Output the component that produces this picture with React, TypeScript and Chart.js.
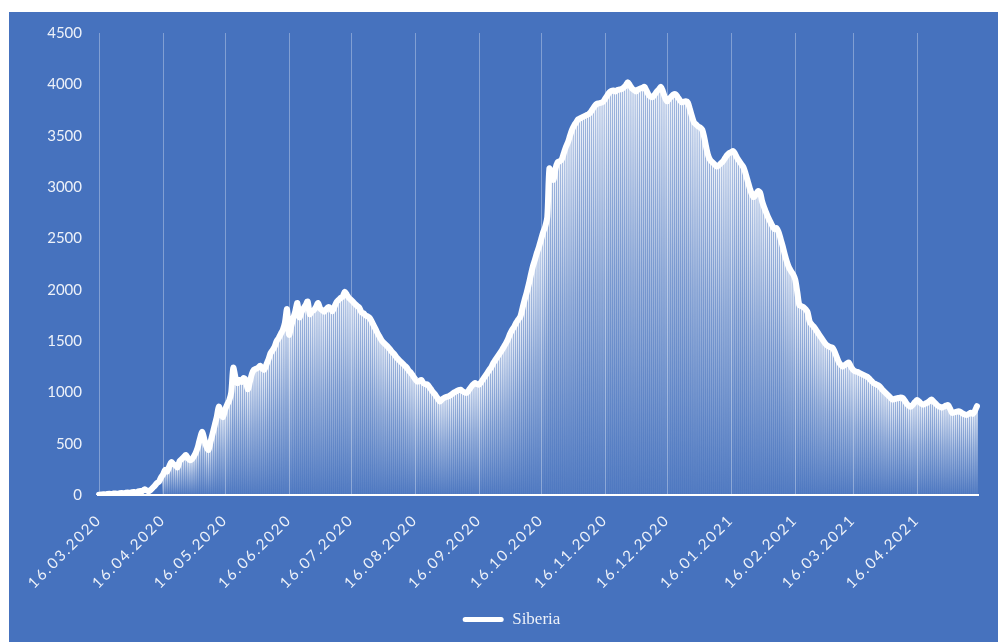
import React, { useEffect, useRef } from 'react';
import { Chart, registerables } from 'chart.js';

Chart.register(...registerables);

// ---------- data ----------
const SERIES_NAME = 'Siberia';
const START_YEAR = 2020;
const START_MONTH = 3; // March
const START_DAY = 16;
const BARS_FROM = '16.04.2020';
const TICK_DAY = '16';
const Y_MIN = 0;
const Y_MAX = 4500;
const Y_STEP = 500;

const mar2020 = [3, 5, 8, 6, 10, 12, 9, 14, 15, 12, 18, 20, 16, 22, 25, 20];
const apr2020 = [28, 30, 26, 35, 40, 38, 55, 45, 35, 50, 70, 90, 115, 130, 170, 200, 245, 230, 280, 320, 300, 290, 270, 330, 350, 370, 390, 360, 340, 350];
const may2020 = [380, 420, 480, 560, 615, 540, 470, 440, 520, 600, 680, 760, 860, 800, 760, 830, 880, 920, 1000, 1240, 1150, 1090, 1120, 1100, 1140, 1120, 1030, 1100, 1180, 1220, 1230];
const jun2020 = [1240, 1260, 1230, 1220, 1270, 1320, 1380, 1410, 1445, 1500, 1530, 1570, 1610, 1680, 1810, 1560, 1640, 1720, 1790, 1870, 1730, 1780, 1820, 1850, 1885, 1760, 1790, 1800, 1830, 1870];
const jul2020 = [1820, 1800, 1785, 1810, 1830, 1820, 1790, 1835, 1880, 1900, 1920, 1935, 1980, 1950, 1920, 1900, 1880, 1860, 1840, 1825, 1780, 1770, 1750, 1740, 1725, 1690, 1650, 1610, 1570, 1535, 1500];
const aug2020 = [1480, 1460, 1440, 1415, 1390, 1370, 1340, 1320, 1298, 1280, 1260, 1240, 1210, 1190, 1160, 1130, 1105, 1110, 1120, 1090, 1080, 1075, 1050, 1020, 995, 970, 940, 910, 930, 945, 955];
const sep2020 = [960, 970, 985, 1000, 1010, 1020, 1025, 1010, 1000, 995, 1020, 1050, 1075, 1090, 1080, 1075, 1100, 1130, 1160, 1190, 1220, 1250, 1290, 1320, 1350, 1380, 1410, 1445, 1480, 1520];
const oct2020 = [1570, 1610, 1640, 1680, 1710, 1740, 1820, 1900, 1970, 2050, 2140, 2225, 2290, 2360, 2420, 2490, 2560, 2615, 2710, 3180, 3120, 3070, 3180, 3240, 3250, 3270, 3330, 3390, 3435, 3500, 3560];
const nov2020 = [3600, 3630, 3660, 3670, 3680, 3690, 3700, 3710, 3730, 3760, 3790, 3810, 3815, 3820, 3830, 3860, 3890, 3920, 3935, 3940, 3930, 3945, 3950, 3955, 3970, 3990, 4020, 3990, 3960, 3945];
const dec2020 = [3930, 3950, 3960, 3965, 3975, 3940, 3900, 3880, 3875, 3900, 3930, 3950, 3975, 3930, 3870, 3835, 3860, 3880, 3900, 3905, 3880, 3850, 3825, 3830, 3835, 3825, 3760, 3690, 3630, 3610, 3590];
const jan2021 = [3580, 3560, 3480, 3380, 3300, 3260, 3240, 3220, 3200, 3210, 3230, 3250, 3280, 3310, 3330, 3340, 3350, 3320, 3280, 3250, 3220, 3190, 3130, 3060, 2990, 2930, 2900, 2930, 2960, 2945, 2860];
const feb2021 = [2800, 2750, 2700, 2660, 2620, 2590, 2600, 2560, 2490, 2420, 2340, 2270, 2215, 2180, 2150, 2100, 1980, 1850, 1840, 1830, 1810, 1780, 1690, 1660, 1640, 1610, 1580, 1550];
const mar2021 = [1520, 1490, 1465, 1450, 1440, 1435, 1400, 1350, 1300, 1270, 1250, 1265, 1280, 1290, 1250, 1220, 1205, 1200, 1190, 1180, 1170, 1160, 1150, 1130, 1110, 1090, 1080, 1070, 1055, 1030, 1010];
const apr2021 = [990, 970, 950, 930, 935, 940, 945, 950, 945, 920, 890, 870, 860, 880, 905, 925, 910, 890, 880, 890, 900, 915, 930, 910, 890, 870, 860, 850, 860, 870];
const may2021 = [875, 840, 800, 805, 810, 815, 810, 795, 785, 780, 790, 800, 790, 820, 865];

const siberia: number[] = [
  ...mar2020, ...apr2020, ...may2020, ...jun2020, ...jul2020, ...aug2020,
  ...sep2020, ...oct2020, ...nov2020, ...dec2020, ...jan2021, ...feb2021,
  ...mar2021, ...apr2021, ...may2021,
];

function buildLabels(n: number): string[] {
  const out: string[] = [];
  const d = new Date(Date.UTC(START_YEAR, START_MONTH - 1, START_DAY));
  for (let i = 0; i < n; i++) {
    const dd = String(d.getUTCDate()).padStart(2, '0');
    const mm = String(d.getUTCMonth() + 1).padStart(2, '0');
    out.push(`${dd}.${mm}.${d.getUTCFullYear()}`);
    d.setUTCDate(d.getUTCDate() + 1);
  }
  return out;
}

const labels = buildLabels(siberia.length);
const barStart = labels.indexOf(BARS_FROM);
const bars = siberia.map((v, i) => (i >= barStart ? v : null));

// ---------- styles ----------
const BG = 'rgb(70,114,190)';
const TEXT = 'rgba(255,255,255,0.9)';
const GRID = 'rgba(255,255,255,0.32)';

const letterSpacingPlugin = {
  id: 'xLetterSpacing',
  afterDatasetsDraw(chart: any) {
    (chart.ctx as any).letterSpacing = '2px';
  },
  afterDraw(chart: any) {
    (chart.ctx as any).letterSpacing = '0px';
  },
};

export default function App() {
  const ref = useRef<HTMLCanvasElement | null>(null);

  useEffect(() => {
    if (!ref.current) return;

    const barFill = (ctx: any) => {
      const chart = ctx.chart;
      const ys = chart.scales && chart.scales.y;
      if (!ys || ctx.type !== 'data' || ctx.raw == null) return 'rgba(255,255,255,0.5)';
      const top = ys.getPixelForValue(ctx.raw);
      const base = ys.getPixelForValue(0);
      if (!isFinite(top) || !isFinite(base) || base - top < 1) return 'rgba(255,255,255,0.3)';
      const g = chart.ctx.createLinearGradient(0, top, 0, base);
      g.addColorStop(0, 'rgba(255,255,255,0.92)');
      g.addColorStop(0.45, 'rgba(255,255,255,0.5)');
      g.addColorStop(1, 'rgba(255,255,255,0.08)');
      return g;
    };

    const chart = new Chart(ref.current, {
      type: 'bar',
      data: {
        labels,
        datasets: [
          {
            type: 'line',
            label: SERIES_NAME,
            data: siberia,
            borderColor: '#ffffff',
            backgroundColor: '#ffffff',
            borderWidth: 6,
            pointRadius: 0,
            tension: 0.3,
            borderCapStyle: 'round',
            borderJoinStyle: 'round',
            order: 0,
          } as any,
          {
            type: 'bar',
            label: 'bars',
            data: bars,
            backgroundColor: barFill,
            borderWidth: 0,
            barPercentage: 0.8,
            categoryPercentage: 1,
            order: 1,
          } as any,
        ],
      },
      options: {
        animation: false,
        responsive: false,
        layout: { padding: { left: 36, right: 20, top: 21, bottom: 4 } },
        plugins: {
          tooltip: { enabled: false },
          legend: {
            position: 'bottom',
            labels: {
              color: TEXT,
              font: { family: '"Liberation Serif", "Times New Roman", serif', size: 17 },
              boxWidth: 41,
              boxHeight: 5,
              useBorderRadius: true,
              borderRadius: 2.5,
              generateLabels: (c: any) =>
                Chart.defaults.plugins.legend.labels
                  .generateLabels(c)
                  .filter((it: any) => it.text === SERIES_NAME)
                  .map((it: any) => ({ ...it, lineWidth: 0, fillStyle: '#ffffff', strokeStyle: '#ffffff' })),
            },
          },
        },
        scales: {
          x: {
            offset: true,
            grid: {
              offset: false,
              drawTicks: false,
              lineWidth: 1,
              color: (c: any) => (c.tick && c.tick.label ? GRID : 'rgba(0,0,0,0)'),
            },
            border: { display: true, color: '#ffffff', width: 2 },
            ticks: {
              z: 1,
              autoSkip: false,
              minRotation: 45,
              maxRotation: 45,
              padding: 16,
              color: TEXT,
              font: { family: 'Lato, "Open Sans", sans-serif', size: 15 },
              callback: (_v: any, i: number) => {
                const l = labels[i];
                return l && l.startsWith(TICK_DAY + '.') ? l : '';
              },
            },
            afterFit: (s: any) => {
              s.height = 106;
              s.paddingLeft = 0;
              s.paddingRight = 0;
            },
          },
          y: {
            min: Y_MIN,
            max: Y_MAX,
            grid: { display: false, drawTicks: false },
            border: { display: false },
            ticks: {
              stepSize: Y_STEP,
              padding: 16,
              color: TEXT,
              font: { family: 'Lato, "Open Sans", sans-serif', size: 15 },
              callback: (v: any) => String(v),
            },
            afterFit: (s: any) => {
              s.width = 53;
              s.paddingTop = 0;
              s.paddingBottom = 0;
            },
          },
        },
      },
      plugins: [letterSpacingPlugin],
    } as any);

    return () => chart.destroy();
  }, []);

  return (
    <div
      style={{
        position: 'absolute',
        left: 9,
        top: 12,
        width: 989,
        height: 630,
        background: BG,
      }}
    >
      <canvas ref={ref} width={989} height={630} style={{ display: 'block' }} />
    </div>
  );
}
